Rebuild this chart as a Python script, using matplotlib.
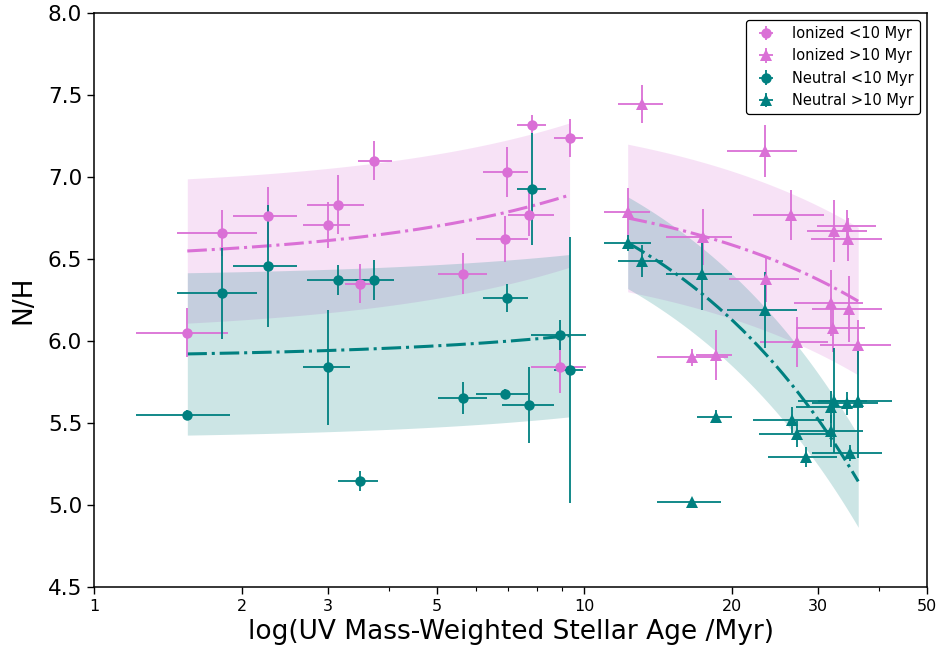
import numpy as np
import matplotlib
matplotlib.use("Agg")
import matplotlib.pyplot as plt
from matplotlib.ticker import FixedLocator, FixedFormatter, NullFormatter, LogLocator

# ---------------- data ----------------
# Ionized, age < 10 Myr
ion_young_age = [1.55, 1.82, 2.26, 3.00, 3.14, 3.73, 3.48, 5.67, 6.88, 6.95, 7.73, 7.81, 9.33, 8.94]
ion_young_nh = [6.05, 6.66, 6.76, 6.71, 6.83, 7.10, 6.35, 6.41, 6.62, 7.03, 6.77, 7.32, 7.24, 5.84]
ion_young_xlo = [0.33, 0.34, 0.34, 0.33, 0.42, 0.28, 0.23, 0.65, 0.86, 0.75, 0.73, 0.51, 0.66, 1.14]
ion_young_xhi = [0.33, 0.33, 0.33, 0.33, 0.42, 0.33, 0.24, 0.65, 0.79, 0.72, 0.94, 0.56, 0.62, 1.16]
ion_young_yerr = [0.15, 0.14, 0.18, 0.14, 0.18, 0.12, 0.12, 0.125, 0.14, 0.15, 0.13, 0.06, 0.115, 0.16]

# Ionized, age > 10 Myr
ion_old_age = [12.26, 13.09, 23.35, 17.44, 26.4, 32.3, 34.3, 34.5, 23.5, 31.9, 34.7, 32.1, 27.2, 36.2, 16.6, 18.6]
ion_old_nh = [6.785, 7.445, 7.16, 6.634, 6.768, 6.67, 6.70, 6.62, 6.378, 6.232, 6.195, 6.08, 5.994, 5.976, 5.90, 5.915]
ion_old_xlo = [1.3, 1.39, 3.85, 2.74, 4.3, 3.8, 4.5, 5.5, 3.8, 5.1, 5.6, 5.1, 4.4, 5.9, 2.5, 1.7]
ion_old_xhi = [1.34, 1.36, 3.75, 2.56, 4.4, 5.5, 5.0, 6.0, 3.9, 5.1, 5.8, 5.3, 4.2, 6.0, 3.0, 1.4]
ion_old_yerr = [0.15, 0.115, 0.16, 0.17, 0.15, 0.19, 0.10, 0.13, 0.14, 0.20, 0.20, 0.15, 0.15, 0.15, 0.05, 0.15]

# Neutral, age < 10 Myr
neu_young_age = [1.55, 1.82, 2.26, 3.00, 3.14, 3.73, 3.48, 5.67, 6.95, 6.88, 7.73, 7.81, 8.94, 9.33]
neu_young_nh = [5.55, 6.29, 6.457, 5.84, 6.372, 6.372, 5.146, 5.652, 6.262, 5.677, 5.61, 6.927, 6.037, 5.823]
neu_young_xlo = [0.33, 0.34, 0.34, 0.33, 0.42, 0.32, 0.33, 0.65, 0.75, 0.86, 0.93, 0.51, 1.14, 0.66]
neu_young_xhi = [0.34, 0.33, 0.33, 0.33, 0.45, 0.36, 0.32, 0.65, 0.72, 0.81, 0.94, 0.56, 1.16, 0.62]
neu_young_yerr = [0.03, 0.28, 0.37, 0.35, 0.09, 0.12, 0.06, 0.10, 0.085, 0.03, 0.23, 0.34, 0.09, 0.81]

# Neutral, age > 10 Myr
neu_old_age = [12.26, 13.09, 17.4, 23.35, 16.6, 18.6, 26.5, 27.2, 28.3, 32.3, 31.8, 34.3, 36.2, 31.9, 34.9]
neu_old_nh = [6.598, 6.488, 6.41, 6.189, 5.018, 5.537, 5.518, 5.433, 5.293, 5.635, 5.598, 5.62, 5.634, 5.451, 5.317]
neu_old_xlo = [1.3, 1.39, 2.7, 3.85, 2.5, 1.63, 4.4, 4.5, 4.6, 5.0, 4.8, 5.2, 6.2, 4.8, 5.8]
neu_old_xhi = [1.44, 1.36, 2.6, 3.75, 2.4, 1.4, 4.3, 5.0, 4.5, 5.5, 5.2, 5.5, 6.2, 5.1, 5.6]
neu_old_yerr = [0.05, 0.10, 0.22, 0.23, 0.02, 0.04, 0.08, 0.08, 0.06, 0.32, 0.10, 0.07, 0.35, 0.10, 0.05]

# Linear fits (N/H = a + b * age) and band half-widths
fit_ion_young = (6.481, 0.0438, 0.44)
fit_neu_young = (5.899, 0.0143, 0.495)
fit_ion_old = (7.010, -0.0212, 0.45)
fit_neu_old = (7.345, -0.0608, 0.28)

x_ticks = [1, 2, 3, 5, 10, 20, 30, 50]
y_ticks = [4.5, 5.0, 5.5, 6.0, 6.5, 7.0, 7.5, 8.0]

ION = "orchid"
NEU = "teal"

# ---------------- figure ----------------
fig = plt.figure(figsize=(9.41, 6.61), dpi=100)
ax = fig.add_axes([94 / 941, 1 - 587 / 661, (927 - 94) / 941, (587 - 13) / 661])
ax.set_xscale("log")


def band_and_line(ages, fit, color):
    a, b, w = fit
    xs = np.linspace(min(ages), max(ages), 200)
    ys = a + b * xs
    ax.fill_between(xs, ys - w, ys + w, color=color, alpha=0.2, lw=0, zorder=1)
    ax.plot(xs, ys, ls="-.", color=color, lw=2.2, zorder=2)


band_and_line(ion_young_age, fit_ion_young, ION)
band_and_line(neu_young_age, fit_neu_young, NEU)
band_and_line(ion_old_age, fit_ion_old, ION)
band_and_line(neu_old_age, fit_neu_old, NEU)


def pts(ages, nh, xlo, xhi, yerr, color, marker, ms, label):
    ax.errorbar(ages, nh, xerr=[xlo, xhi], yerr=yerr, fmt=marker, color=color,
                ecolor=color, elinewidth=1.3, capsize=0, ms=ms, mew=0,
                label=label, zorder=3)


pts(ion_young_age, ion_young_nh, ion_young_xlo, ion_young_xhi, ion_young_yerr, ION, "o", 7.5, "Ionized <10 Myr")
pts(ion_old_age, ion_old_nh, ion_old_xlo, ion_old_xhi, ion_old_yerr, ION, "^", 9, "Ionized >10 Myr")
pts(neu_young_age, neu_young_nh, neu_young_xlo, neu_young_xhi, neu_young_yerr, NEU, "o", 7.5, "Neutral <10 Myr")
pts(neu_old_age, neu_old_nh, neu_old_xlo, neu_old_xhi, neu_old_yerr, NEU, "^", 9, "Neutral >10 Myr")

ax.set_xlim(1, 50)
ax.set_ylim(4.5, 8.0)
ax.xaxis.set_major_locator(FixedLocator(x_ticks))
ax.xaxis.set_major_formatter(FixedFormatter([str(t) for t in x_ticks]))
ax.xaxis.set_minor_locator(LogLocator(base=10, subs=np.arange(2, 10)))
ax.xaxis.set_minor_formatter(NullFormatter())
ax.set_yticks(y_ticks)
ax.set_yticklabels([f"{t:.1f}" for t in y_ticks])
ax.tick_params(axis="x", which="major", labelsize=11.5, length=5, width=1)
ax.tick_params(axis="x", which="minor", length=3, width=0.8)
ax.tick_params(axis="y", which="major", labelsize=15.5, length=5, width=1)
for s in ax.spines.values():
    s.set_linewidth(1.1)

ax.set_xlabel("log(UV Mass-Weighted Stellar Age /Myr)", fontsize=19, labelpad=4)
ax.set_ylabel("N/H", fontsize=19, labelpad=8)

leg = ax.legend(loc="upper right", fontsize=10.5, frameon=True, framealpha=1,
                edgecolor="black", handlelength=2, borderaxespad=0.5)
leg.get_frame().set_linewidth(0.9)

fig.savefig("out.png", dpi=100)
